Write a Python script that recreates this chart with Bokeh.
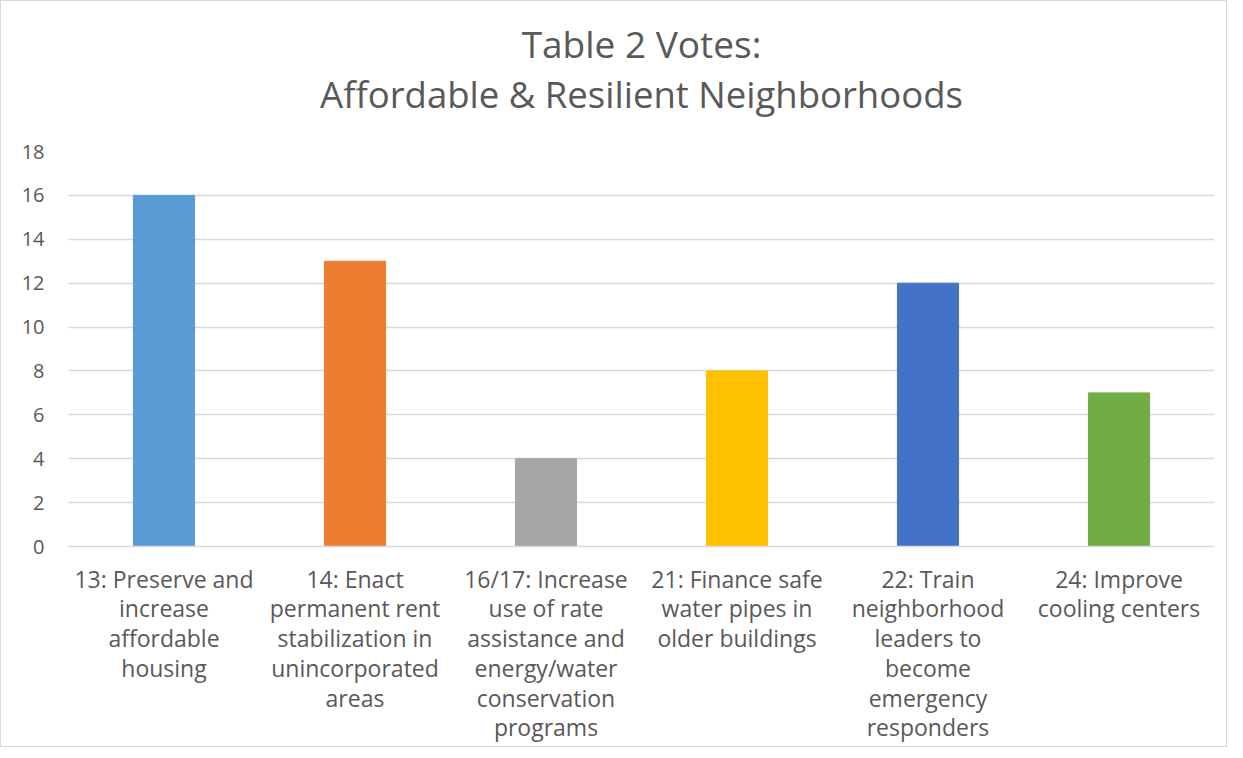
from bokeh.plotting import figure
from bokeh.models import ColumnDataSource, Range1d, FixedTicker, Title
from bokeh.embed import file_html
from bokeh.resources import INLINE

title_lines = ["Table 2 Votes:", "Affordable & Resilient Neighborhoods"]
categories = [
    "13: Preserve and\nincrease\naffordable\nhousing",
    "14: Enact\npermanent rent\nstabilization in\nunincorporated\nareas",
    "16/17: Increase\nuse of rate\nassistance and\nenergy/water\nconservation\nprograms",
    "21: Finance safe\nwater pipes in\nolder buildings",
    "22: Train\nneighborhood\nleaders to\nbecome\nemergency\nresponders",
    "24: Improve\ncooling centers",
]
votes = [16, 13, 4, 8, 12, 7]
colors = ["#5b9bd5", "#ed7d31", "#a5a5a5", "#ffc000", "#4472c4", "#70ad47"]
y_ticks = [0, 2, 4, 6, 8, 10, 12, 14, 16, 18]

FONT = "Open Sans"
GRAY = "#595959"

src = ColumnDataSource(dict(cat=categories, v=votes, c=colors))

p = figure(
    x_range=categories,
    y_range=Range1d(0, 18),
    frame_width=1146, frame_height=395,
    output_backend="svg", toolbar_location=None,
    min_border_left=67, min_border_right=12, min_border_top=150, min_border_bottom=185,
    title=None,
)

t2 = Title(text=title_lines[1], align="center", text_font=FONT, text_font_style="normal",
           text_font_size="36.5px", text_color=GRAY, standoff=66)
t1 = Title(text=title_lines[0], align="center", text_font=FONT, text_font_style="normal",
           text_font_size="37px", text_color=GRAY, standoff=-70)
p.add_layout(t2, "above")
p.add_layout(t1, "above")

p.vbar(x="cat", top="v", width=0.32, color="c", source=src)

p.outline_line_color = None
p.xgrid.grid_line_color = None
p.ygrid.grid_line_color = "#d9d9d9"
p.ygrid.grid_line_width = 1.5
p.yaxis.ticker = FixedTicker(ticks=y_ticks)
p.yaxis.axis_line_color = None
p.yaxis.major_tick_line_color = None
p.yaxis.minor_tick_line_color = None
p.yaxis.major_label_text_font = FONT
p.yaxis.major_label_text_font_size = "20px"
p.yaxis.major_label_text_color = GRAY
p.yaxis.major_label_standoff = 18

p.xaxis.axis_line_color = "#d9d9d9"
p.xaxis.axis_line_width = 1.5
p.xaxis.major_tick_line_color = None
p.xaxis.minor_tick_line_color = None
p.xaxis.major_label_text_font = FONT
p.xaxis.major_label_text_font_size = "23px"
p.xaxis.major_label_text_color = GRAY
p.xaxis.major_label_standoff = 10
p.xaxis.major_label_text_line_height = 0.93
p.x_range.range_padding = 0

p.styles = {"border": "1px solid #d9d9d9"}

open("out.html", "w").write(file_html(p, INLINE))
